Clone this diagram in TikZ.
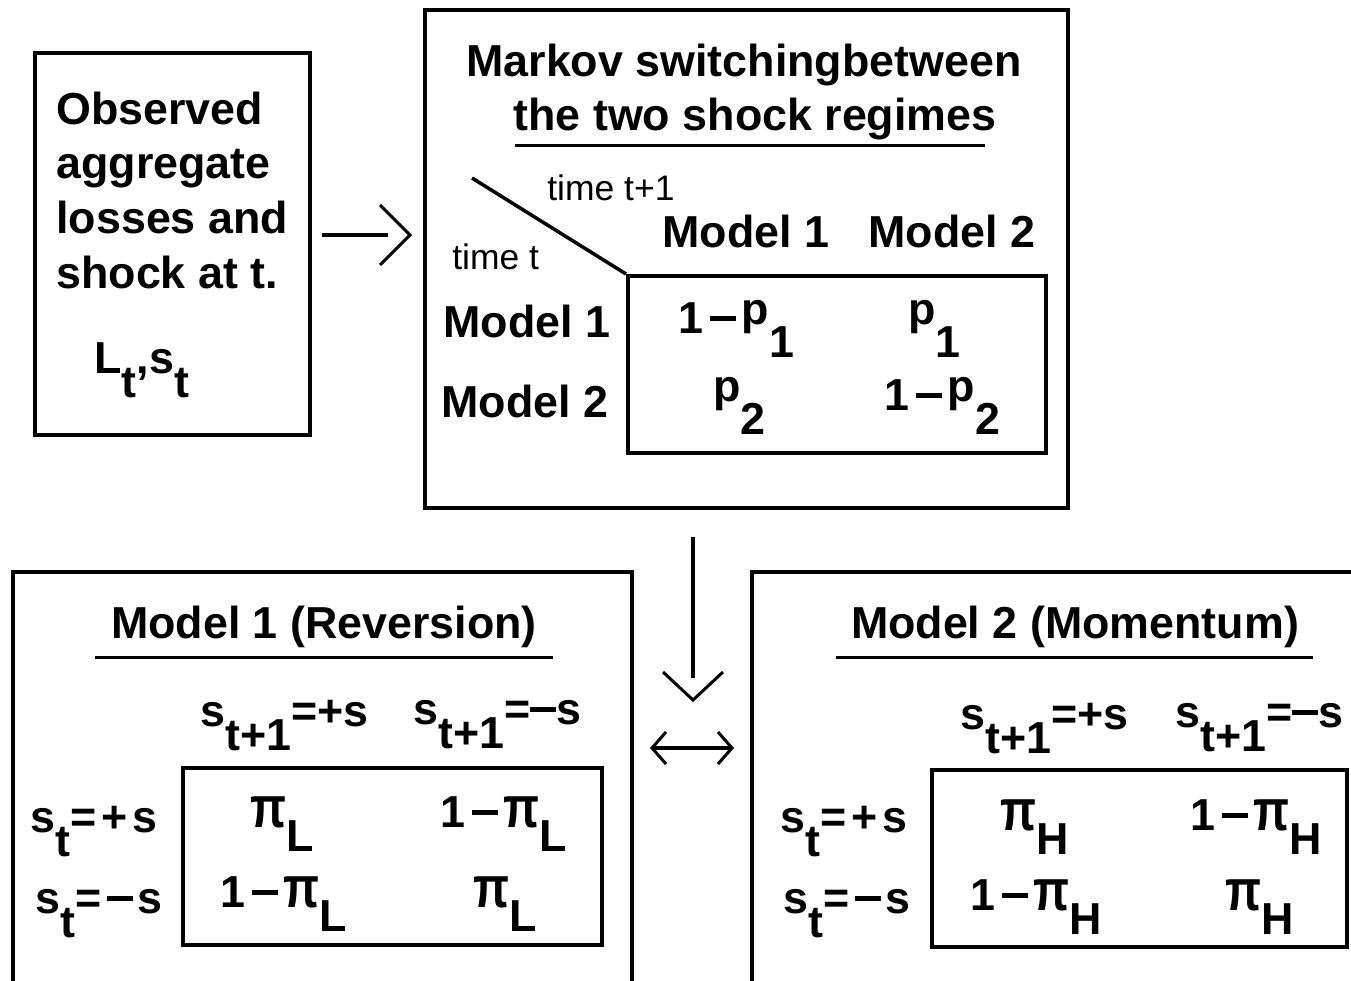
\documentclass[tikz,border=0pt]{standalone}
\usepackage{fontspec}
\setmainfont{Liberation Sans}
\usetikzlibrary{calc,fit}
\newcommand{\lo}[1]{\raisebox{-0.55em}{#1}}
\newcommand{\pp}{\raisebox{0.2em}{p}}
\newcommand{\dsh}{\rule[0.27em]{0.58em}{0.1em}}
\newcommand{\mn}{\hspace{0.14em}\dsh\hspace{0.14em}}
\newcommand{\ppi}{\scalebox{1.05}[1.3]{π}}
\tikzset{
  frame/.style={draw, line width=0.08cm, inner sep=0pt},
  lbl/.style={font=\fontsize{25.5}{30}\selectfont\bfseries, inner sep=0pt, anchor=base west},
  lblc/.style={font=\fontsize{25.5}{30}\selectfont\bfseries, inner sep=0pt, anchor=base},
  smalllbl/.style={font=\fontsize{20.2}{24}\selectfont, inner sep=0pt, anchor=base west},
  rule/.style={line width=0.06cm},
  shaft/.style={line width=0.08cm},
  head/.style={line width=0.06cm, line join=miter},
}
\begin{document}
\begin{tikzpicture}[x=0.02cm,y=-0.02cm]
\useasboundingbox (0,0) rectangle (1351,980);
\clip (0,0) rectangle (1351,980);
\fill[white] (0,0) rectangle (1351,980);

% ---------- box 1: observed ----------
\node[frame, fit={(35,53) (310,435)}] (obs) {};
\node[lbl] (o1) at (56,124) {Observed};
\node[lbl] (o2) at (56,178) {aggregate};
\node[lbl] (o3) at (56,233) {losses and};
\node[lbl] (o4) at (56,288) {shock at t.};
\node[lbl] (o5) at (94,373) {L\lo{t},s\lo{t}};

% ---------- box 2: Markov ----------
\node[frame, fit={(425,10) (1068,508)}] (mk) {};
\node[lblc] (mt1) at (744,77) {Markov switchingbetween};
\node[lblc] (mt2) at (755,131) {the two shock regimes};
\coordinate (ul1a) at (515,145); \coordinate (ul1b) at (985,145);
\draw[rule] (ul1a) -- (ul1b);
\node[frame, fit={(628,276) (1046,453)}] (mm) {};
\coordinate (dg) at (472,178);
\draw[line width=0.07cm] (dg) -- (mm.north west);
\node[smalllbl] (tt1) at (547,200) {time t+1};
\node[smalllbl] (tt) at (452,269) {time t};
\node[lbl] (mh1) at (662,247) {Model 1};
\node[lbl] (mh2) at (868,247) {Model 2};
\node[lbl] (mr1) at (443,337) {Model 1};
\node[lbl] (mr2) at (441,417) {Model 2};
\node[lbl] (m11) at (678,333) {1\mn\pp\lo{1}};
\node[lbl] (m12) at (908,333) {\pp\lo{1}};
\node[lbl] (m21) at (713,410) {\pp\lo{2}};
\node[lbl] (m22) at (884,410) {1\mn\pp\lo{2}};

% ---------- arrows ----------
\coordinate (a1s) at (322,235); \coordinate (a1t) at (410,235);
\draw[shaft] (a1s) -- ($(a1t)+(-22,0)$);
\draw[head] ($(a1t)+(-30,-30)$) -- (a1t) -- ($(a1t)+(-30,30)$);

\coordinate (a2s) at (693,537); \coordinate (a2t) at (693,700);
\draw[shaft] (a2s) -- ($(a2t)+(0,-22)$);
\draw[head] ($(a2t)+(-30,-28)$) -- (a2t) -- ($(a2t)+(30,-28)$);

\coordinate (a3l) at (652,748); \coordinate (a3r) at (732,748);
\draw[shaft] (a3l) -- (a3r);
\draw[head] ($(a3l)+(14,-16)$) -- (a3l) -- ($(a3l)+(14,16)$);
\draw[head] ($(a3r)+(-14,-16)$) -- (a3r) -- ($(a3r)+(-14,16)$);

% ---------- box 3: Model 1 ----------
\node[frame, fit={(13,572) (632,1060)}] (b3) {};
\node[lblc] (b3t) at (324,638) {Model 1 (Reversion)};
\coordinate (ul3a) at (95,657); \coordinate (ul3b) at (553,657);
\draw[rule] (ul3a) -- (ul3b);
\node[lbl] (b3h1) at (200,726) {s\lo{t+1}=+s};
\node[lbl] (b3h2) at (413,724) {s\lo{t+1}=\dsh s};
\node[frame, fit={(183,768) (602,945)}] (b3m) {};
\node[lbl] (b3r1) at (30,832) {s\lo{t}=\hspace{0.12em}+\hspace{0.1em}s};
\node[lbl] (b3r2) at (35,913) {s\lo{t}=\hspace{0.12em}\dsh\hspace{0.1em}s};
\node[lbl] (b3e11) at (250,827) {\ppi\lo{L}};
\node[lbl] (b3e12) at (440,827) {1\mn\ppi\lo{L}};
\node[lbl] (b3e21) at (220,907) {1\mn\ppi\lo{L}};
\node[lbl] (b3e22) at (473,907) {\ppi\lo{L}};

% ---------- box 4: Model 2 ----------
\node[frame, fit={(752,572) (1420,1060)}] (b4) {};
\node[lblc] (b4t) at (1075,638) {Model 2 (Momentum)};
\coordinate (ul4a) at (836,657); \coordinate (ul4b) at (1313,657);
\draw[rule] (ul4a) -- (ul4b);
\node[lbl] (b4h1) at (960,729) {s\lo{t+1}=+s};
\node[lbl] (b4h2) at (1175,727) {s\lo{t+1}=\dsh s};
\node[frame, fit={(932,770) (1347,947)}] (b4m) {};
\node[lbl] (b4r1) at (780,832) {s\lo{t}=\hspace{0.12em}+\hspace{0.1em}s};
\node[lbl] (b4r2) at (783,913) {s\lo{t}=\hspace{0.12em}\dsh\hspace{0.1em}s};
\node[lbl] (b4e11) at (1000,830) {\ppi\lo{H}};
\node[lbl] (b4e12) at (1190,830) {1\mn\ppi\lo{H}};
\node[lbl] (b4e21) at (970,910) {1\mn\ppi\lo{H}};
\node[lbl] (b4e22) at (1225,910) {\ppi\lo{H}};
\end{tikzpicture}
\end{document}
